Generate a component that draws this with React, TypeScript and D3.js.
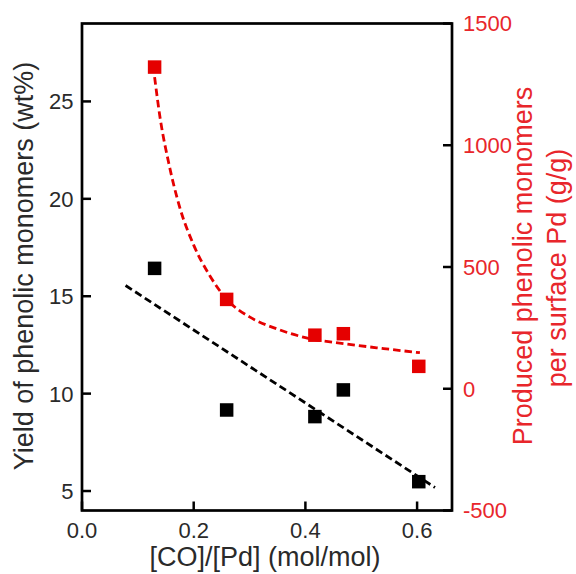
import React from "react";
import * as d3 from "d3";

// ---- data ----
const coPd = [0.13, 0.259, 0.417, 0.468, 0.603];
const yieldWt = [16.43, 9.16, 8.82, 10.19, 5.48];
const producedPerPd = [1321, 367, 220, 226, 92];

const yieldFitX = [0.078, 0.632];
const yieldFitY = [15.55, 5.18];

const producedFitX = [0.13, 0.14, 0.155, 0.175, 0.2, 0.23, 0.26, 0.3, 0.35, 0.4, 0.47, 0.54, 0.605];
const producedFitY = [1280, 1110, 930, 745, 590, 460, 365, 295, 245, 210, 185, 165, 148];

const xTicks = [0, 0.2, 0.4, 0.6];
const leftTicks = [5, 10, 15, 20, 25];
const rightTicks = [-500, 0, 500, 1000, 1500];

const xTitle = "[CO]/[Pd] (mol/mol)";
const leftTitle = "Yield of phenolic monomers (wt%)";
const rightTitle1 = "Produced phenolic monomers";
const rightTitle2 = "per surface Pd (g/g)";

// ---- layout ----
const W = 576;
const H = 574;
const L = 82;
const R = 452;
const T = 23.5;
const B = 510.5;
const RED = "#e50000";
const RED_TEXT = "#e8262b";
const FONT = "'Liberation Sans', Arial, Helvetica, sans-serif";

export default function App() {
  const x = d3.scaleLinear().domain([0, 0.6625]).range([L, R]);
  const yL = d3.scaleLinear().domain([4, 29]).range([B, T]);
  const yR = d3.scaleLinear().domain([-500, 1500]).range([B, T]);

  const blackLine = d3
    .line<number>()
    .x((d) => x(d))
    .y((_, i) => yL(yieldFitY[i]))(yieldFitX);

  const redLine = d3
    .line<number>()
    .x((d) => x(d))
    .y((_, i) => yR(producedFitY[i]))
    .curve(d3.curveMonotoneX)(producedFitX);

  const ms = 13.5;
  const tickLen = 9;

  return (
    <svg
      width={W}
      height={H}
      style={{ position: "absolute", left: 0, top: 0, background: "#fff" }}
      fontFamily={FONT}
    >
      <rect x={0} y={0} width={W} height={H} fill="#fff" />
      {/* fit lines */}
      <path d={blackLine || ""} fill="none" stroke="#000" strokeWidth={2.8} strokeDasharray="7.5,4" />
      <path d={redLine || ""} fill="none" stroke={RED} strokeWidth={2.8} strokeDasharray="7.5,4" />

      {/* markers */}
      {coPd.map((c, i) => (
        <rect
          key={"b" + i}
          x={x(c) - ms / 2}
          y={yL(yieldWt[i]) - ms / 2}
          width={ms}
          height={ms}
          fill="#000"
        />
      ))}
      {coPd.map((c, i) => (
        <rect
          key={"r" + i}
          x={x(c) - ms / 2}
          y={yR(producedPerPd[i]) - ms / 2}
          width={ms}
          height={ms}
          fill={RED}
        />
      ))}

      {/* frame */}
      <rect x={L} y={T} width={R - L} height={B - T} fill="none" stroke="#000" strokeWidth={2.7} />

      {/* x ticks */}
      {xTicks.map((t) => (
        <g key={"x" + t}>
          <line x1={x(t)} x2={x(t)} y1={B} y2={B - tickLen} stroke="#000" strokeWidth={2.5} />
          <text x={x(t)} y={538} textAnchor="middle" fontSize={22} fill="#2a2a2a">
            {d3.format(".1f")(t)}
          </text>
        </g>
      ))}

      {/* left ticks */}
      {leftTicks.map((t) => (
        <g key={"l" + t}>
          <line x1={L} x2={L + tickLen} y1={yL(t)} y2={yL(t)} stroke="#000" strokeWidth={2.5} />
          <text x={73.5} y={yL(t)} dy="0.36em" textAnchor="end" fontSize={22} fill="#2a2a2a">
            {t}
          </text>
        </g>
      ))}

      {/* right ticks */}
      {rightTicks.map((t) => (
        <g key={"r" + t}>
          <line x1={R} x2={R - tickLen} y1={yR(t)} y2={yR(t)} stroke="#000" strokeWidth={2.5} />
          <text x={463} y={yR(t)} dy="0.36em" textAnchor="start" fontSize={22} fill={RED_TEXT}>
            {t}
          </text>
        </g>
      ))}

      {/* titles */}
      <text x={265} y={566} textAnchor="middle" fontSize={27} fill="#2a2a2a">
        {xTitle}
      </text>
      <text
        transform={`translate(33,266) rotate(-90)`}
        textAnchor="middle"
        fontSize={27}
        fill="#2a2a2a"
      >
        {leftTitle}
      </text>
      <text
        transform={`translate(532,266) rotate(-90)`}
        textAnchor="middle"
        fontSize={27}
        fill={RED_TEXT}
      >
        {rightTitle1}
      </text>
      <text
        transform={`translate(566,268) rotate(-90)`}
        textAnchor="middle"
        fontSize={27}
        fill={RED_TEXT}
      >
        {rightTitle2}
      </text>
    </svg>
  );
}
